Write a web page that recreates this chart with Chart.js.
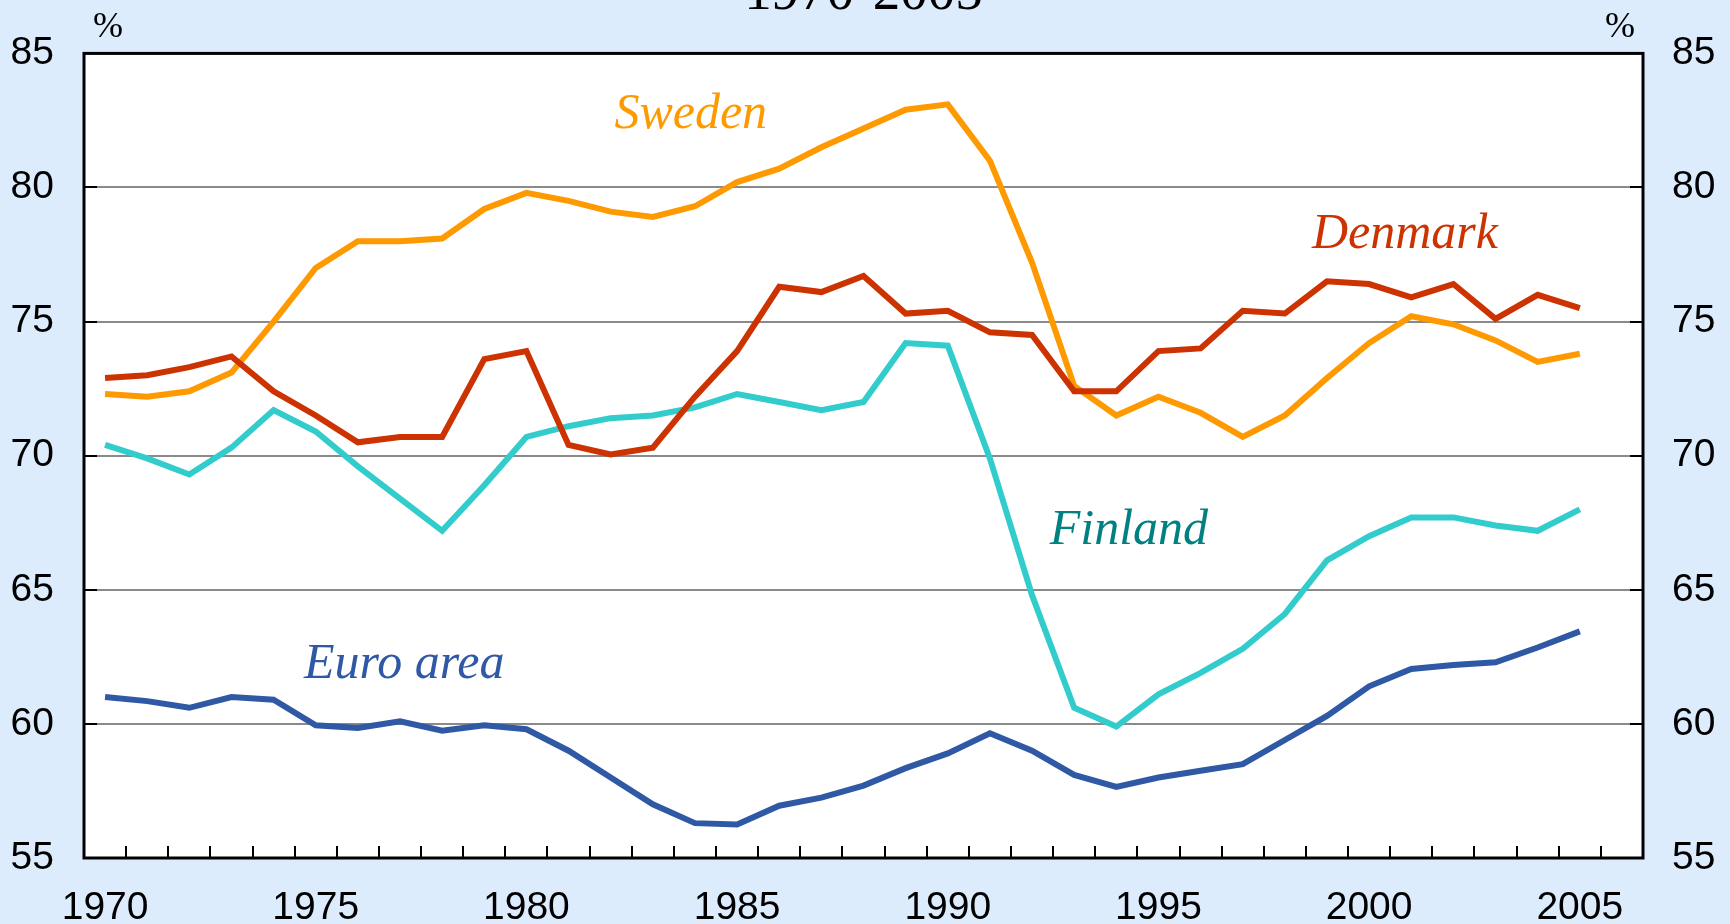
<!DOCTYPE html>
<html>
<head>
<meta charset="utf-8">
<script src="https://cdn.jsdelivr.net/npm/chart.js@4.4.1/dist/chart.umd.min.js"></script>
<style>
  html, body { margin: 0; padding: 0; background: #ddecfd; }
  #wrap { width: 1730px; height: 924px; position: relative; }
</style>
</head>
<body>
<div id="wrap"><canvas id="chart"></canvas></div>
<script>
// employment rates, %
const years = [1970, 1971, 1972, 1973, 1974, 1975, 1976, 1977, 1978, 1979,
  1980, 1981, 1982, 1983, 1984, 1985, 1986, 1987, 1988, 1989,
  1990, 1991, 1992, 1993, 1994, 1995, 1996, 1997, 1998, 1999,
  2000, 2001, 2002, 2003, 2004, 2005];
const sweden = [72.3, 72.2, 72.4, 73.1, 75.0, 77.0, 78.0, 78.0, 78.1, 79.2,
  79.8, 79.5, 79.1, 78.9, 79.3, 80.2, 80.7, 81.5, 82.2, 82.9,
  83.1, 81.0, 77.2, 72.6, 71.5, 72.2, 71.6, 70.7, 71.5, 72.9,
  74.2, 75.2, 74.9, 74.3, 73.5, 73.8];
const denmark = [72.9, 73.0, 73.3, 73.7, 72.4, 71.5, 70.5, 70.7, 70.7, 73.6,
  73.9, 70.4, 70.05, 70.3, 72.2, 73.9, 76.3, 76.1, 76.7, 75.3,
  75.4, 74.6, 74.5, 72.4, 72.4, 73.9, 74.0, 75.4, 75.3, 76.5,
  76.4, 75.9, 76.4, 75.1, 76.0, 75.5];
const finland = [70.4, 69.9, 69.3, 70.3, 71.7, 70.9, 69.6, 68.4, 67.2, 68.9,
  70.7, 71.1, 71.4, 71.5, 71.8, 72.3, 72.0, 71.7, 72.0, 74.2,
  74.1, 69.9, 64.8, 60.6, 59.9, 61.1, 61.9, 62.8, 64.1, 66.1,
  67.0, 67.7, 67.7, 67.4, 67.2, 68.0];
const euroArea = [61.0, 60.85, 60.6, 61.0, 60.9, 59.95, 59.85, 60.1, 59.75, 59.95,
  59.8, 59.0, 58.0, 57.0, 56.3, 56.25, 56.95, 57.25, 57.7, 58.35,
  58.9, 59.65, 59.0, 58.1, 57.65, 58.0, 58.25, 58.5, 59.4, 60.3,
  61.4, 62.05, 62.2, 62.3, 62.85, 63.45];
const xTickYears = [1970, 1975, 1980, 1985, 1990, 1995, 2000, 2005];
const seriesNames = ['Denmark', 'Sweden', 'Finland', 'Euro area'];
const chartTitle = '1970-2005';

const colors = { Denmark: '#cc3300', Sweden: '#ff9900', Finland: '#33cccc', 'Euro area': '#2f59a4' };
const labelColors = { Denmark: '#cc3300', Sweden: '#ff9900', Finland: '#008080', 'Euro area': '#2f59a4' };
// where the series names sit, in data coordinates (year, %)
const labelSpots = {
  Sweden: [1983.9, 82.2],
  Denmark: [2000.85, 77.75],
  Finland: [1994.3, 66.7],
  'Euro area': [1977.1, 61.7]
};
const seriesData = { Denmark: denmark, Sweden: sweden, Finland: finland, 'Euro area': euroArea };

const sans = '"Liberation Sans", Arial, sans-serif';
const serif = '"Liberation Serif", "Times New Roman", serif';

const frame = {
  id: 'frame',
  beforeDraw(chart) {
    const { ctx, chartArea: a } = chart;
    ctx.save();
    ctx.fillStyle = '#ddecfd';
    ctx.fillRect(0, 0, chart.width, chart.height);
    ctx.fillStyle = '#ffffff';
    ctx.fillRect(a.left, a.top, a.right - a.left, a.bottom - a.top);
    ctx.restore();
  },
  afterDraw(chart) {
    const { ctx, chartArea: a, scales: { x, y } } = chart;
    ctx.save();
    ctx.strokeStyle = '#000';
    ctx.lineWidth = 2;
    ctx.beginPath();
    years.forEach((yr) => {
      const px = Math.round(x.getPixelForValue(yr + 0.5));
      ctx.moveTo(px, a.bottom);
      ctx.lineTo(px, a.bottom - 12);
    });
    y.ticks.forEach((t) => {
      if (t.value === y.min || t.value === y.max) return;
      const py = Math.round(y.getPixelForValue(t.value));
      ctx.moveTo(a.left, py);
      ctx.lineTo(a.left + 13, py);
      ctx.moveTo(a.right - 13, py);
      ctx.lineTo(a.right, py);
    });
    ctx.stroke();
    ctx.lineWidth = 3;
    ctx.strokeRect(a.left, a.top, a.right - a.left, a.bottom - a.top);

    ctx.textAlign = 'center';
    ctx.textBaseline = 'alphabetic';
    ctx.font = 'italic 50px ' + serif;
    seriesNames.forEach((name) => {
      const [yr, v] = labelSpots[name];
      ctx.fillStyle = labelColors[name];
      ctx.fillText(name, x.getPixelForValue(yr), y.getPixelForValue(v));
    });

    ctx.fillStyle = '#000';
    ctx.font = '55px ' + serif;
    ctx.fillText(chartTitle, (a.left + a.right) / 2, 9);
    ctx.font = '36px ' + serif;
    ctx.fillText('%', a.left + 24, 37);
    ctx.fillText('%', a.right - 23, 37);
    ctx.restore();
  }
};

const tickFont = { family: sans, size: 39 };

new Chart(document.getElementById('chart'), {
  type: 'line',
  data: {
    datasets: seriesNames.map((name) => ({
      label: name,
      data: years.map((yr, i) => ({ x: yr, y: seriesData[name][i] })),
      borderColor: colors[name],
      borderWidth: 6,
      pointRadius: 0,
      tension: 0,
      fill: false
    }))
  },
  options: {
    responsive: true,
    maintainAspectRatio: false,
    animation: false,
    events: [],
    layout: { padding: { top: 53, left: 0, right: 0, bottom: 0 } },
    plugins: { legend: { display: false }, tooltip: { enabled: false } },
    scales: {
      x: {
        type: 'linear',
        min: 1969.5,
        max: 2006.5,
        afterBuildTicks: (scale) => { scale.ticks = xTickYears.map((v) => ({ value: v })); },
        afterFit: (scale) => { scale.height = 66; },
        grid: { display: false },
        border: { display: false },
        ticks: { font: tickFont, color: '#000', padding: 19, maxRotation: 0, autoSkip: false, callback: (v) => String(v) }
      },
      y: {
        position: 'left',
        min: 55,
        max: 85,
        afterFit: (scale) => { scale.width = 84; },
        grid: { color: '#8a8a8a', lineWidth: 2, drawTicks: false },
        border: { display: false },
        ticks: { stepSize: 5, font: tickFont, color: '#000', padding: 30 }
      },
      y2: {
        position: 'right',
        min: 55,
        max: 85,
        afterFit: (scale) => { scale.width = 87; },
        grid: { display: false, drawTicks: false },
        border: { display: false },
        ticks: { stepSize: 5, font: tickFont, color: '#000', padding: 29 }
      }
    }
  },
  plugins: [frame]
});
</script>
</body>
</html>
